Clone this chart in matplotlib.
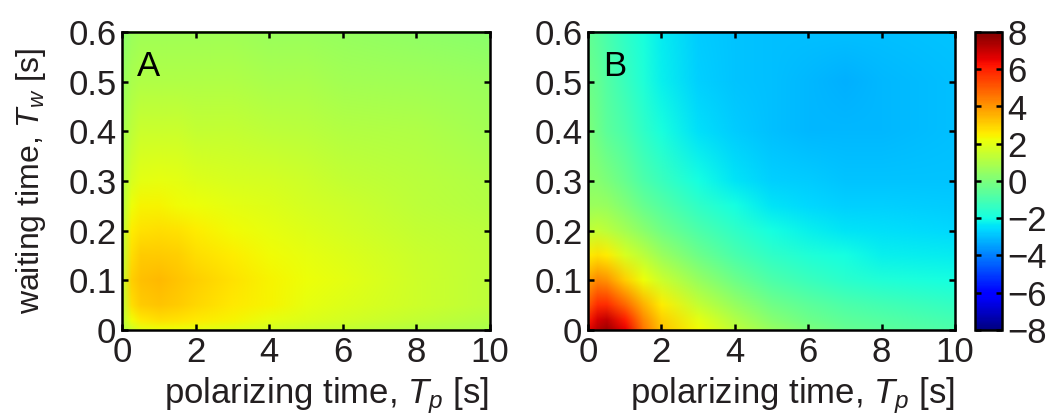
import numpy as np
import matplotlib
matplotlib.use('Agg')
import matplotlib.pyplot as plt
from matplotlib.colors import Normalize
from matplotlib.image import NonUniformImage

plt.rcParams['font.family'] = ['Liberation Sans', 'DejaVu Sans']
plt.rcParams['mathtext.fontset'] = 'custom'
plt.rcParams['mathtext.rm'] = 'Liberation Sans'
plt.rcParams['mathtext.it'] = 'Liberation Sans:italic'

# grid of polarizing time (s) and waiting time (s)
tp_a = [0, 0.25, 0.5, 1, 1.5, 2, 3, 4, 5, 6, 8, 10]
tw_a = [0, 0.02, 0.05, 0.1, 0.15, 0.2, 0.25, 0.3, 0.4, 0.5, 0.6]
z_a = [
    [1.0, 1.6, 2.0, 2.2, 2.2, 2.1, 1.9, 1.7, 1.5, 1.4, 1.1, 0.9],
    [1.2, 2.3, 2.6, 2.8, 2.7, 2.6, 2.4, 2.1, 1.9, 1.7, 1.4, 1.1],
    [1.3, 2.8, 3.1, 3.2, 3.1, 2.9, 2.6, 2.4, 2.1, 1.9, 1.6, 1.3],
    [1.4, 3.0, 3.3, 3.4, 3.2, 3.0, 2.7, 2.4, 2.2, 2.0, 1.6, 1.3],
    [1.3, 2.8, 3.1, 3.1, 3.0, 2.8, 2.5, 2.3, 2.1, 1.9, 1.5, 1.3],
    [1.2, 2.5, 2.7, 2.8, 2.7, 2.5, 2.3, 2.1, 1.9, 1.7, 1.4, 1.2],
    [1.1, 2.2, 2.4, 2.4, 2.3, 2.2, 2.0, 1.9, 1.7, 1.6, 1.3, 1.1],
    [1.0, 1.8, 2.0, 2.1, 2.0, 1.9, 1.8, 1.7, 1.6, 1.4, 1.2, 1.0],
    [0.8, 1.3, 1.5, 1.5, 1.5, 1.4, 1.4, 1.3, 1.2, 1.1, 1.0, 0.8],
    [0.5, 0.9, 1.0, 1.0, 1.0, 1.0, 1.0, 0.9, 0.9, 0.8, 0.7, 0.6],
    [0.3, 0.6, 0.7, 0.7, 0.7, 0.7, 0.7, 0.6, 0.6, 0.5, 0.4, 0.3],
]

tp_b = [0, 0.25, 0.5, 1, 1.5, 2, 3, 4, 5, 6, 7, 8, 10]
tw_b = [0, 0.02, 0.05, 0.1, 0.15, 0.2, 0.25, 0.3, 0.4, 0.5, 0.6]
z_b = [
    [6.5, 7.2, 7.5, 6.5, 4.5, 3.2, 2.3, 1.3, 0.5, 0.0, -0.4, -0.6, -0.9],
    [6.0, 6.8, 7.0, 6.0, 4.2, 3.0, 2.0, 1.0, 0.2, -0.3, -0.6, -0.8, -1.1],
    [5.0, 5.8, 5.8, 4.8, 3.5, 2.5, 1.4, 0.5, -0.2, -0.6, -0.9, -1.1, -1.4],
    [3.8, 4.2, 4.0, 3.0, 2.2, 1.5, 0.5, -0.3, -0.9, -1.3, -1.6, -1.8, -2.0],
    [2.5, 2.7, 2.5, 1.8, 1.2, 0.6, -0.3, -1.0, -1.5, -1.8, -2.0, -2.2, -2.3],
    [1.3, 1.4, 1.2, 0.8, 0.3, -0.2, -0.9, -1.5, -2.0, -2.2, -2.4, -2.5, -2.6],
    [0.6, 0.6, 0.5, 0.1, -0.4, -0.8, -1.5, -2.0, -2.4, -2.6, -2.7, -2.7, -2.8],
    [0.3, 0.2, 0.0, -0.4, -0.9, -1.3, -2.0, -2.4, -2.7, -2.8, -2.9, -2.9, -2.9],
    [0.0, -0.3, -0.6, -1.0, -1.5, -1.9, -2.5, -2.8, -3.0, -3.1, -3.1, -3.1, -3.0],
    [-0.3, -0.5, -0.8, -1.3, -1.8, -2.2, -2.7, -2.9, -3.0, -3.1, -3.2, -3.1, -3.0],
    [-0.5, -0.7, -1.0, -1.5, -1.9, -2.3, -2.8, -2.9, -3.0, -3.0, -3.0, -3.0, -2.9],
]

xticks = [0, 2, 4, 6, 8, 10]
yticks = [0, 0.1, 0.2, 0.3, 0.4, 0.5, 0.6]
ytick_labels = ['0', '0.1', '0.2', '0.3', '0.4', '0.5', '0.6']
cbar_ticks = [-8, -6, -4, -2, 0, 2, 4, 6, 8]
panel_labels = ['A', 'B']

txt = '#231f20'
norm = Normalize(-8, 8)
fs = 25

fig = plt.figure(figsize=(10.62, 4.15), dpi=100)
W, H = 1062, 415
ax_a = fig.add_axes([122 / W, (H - 330) / H, 368 / W, 298 / H])
ax_b = fig.add_axes([588 / W, (H - 330) / H, 367 / W, 298 / H])
cax = fig.add_axes([975 / W, (H - 330) / H, 27 / W, 298 / H])


def draw_panel(ax, tp, tw, z, label):
    im = NonUniformImage(ax, interpolation='bilinear', extent=(0, 10, 0, 0.6),
                         cmap='jet', norm=norm)
    im.set_data(np.array(tp, float), np.array(tw, float), np.array(z, float))
    ax.add_image(im)
    ax.set_xlim(0, 10)
    ax.set_ylim(0, 0.6)
    ax.set_xticks(xticks)
    ax.set_yticks(yticks)
    ax.set_yticklabels(ytick_labels)
    ax.tick_params(direction='in', top=True, right=True, length=4, width=1.8,
                   labelsize=fs, labelcolor=txt, pad=4)
    for s in ax.spines.values():
        s.set_linewidth(1.8)
    ax.set_xlabel('polarizing time, $T_p$ [s]', fontsize=fs, color=txt)
    ax.xaxis.set_label_coords(0.557, -0.15)
    ax.text(0.04, 0.852, label, transform=ax.transAxes, fontsize=fs,
            color='black', va='baseline', ha='left')
    return im


im_a = draw_panel(ax_a, tp_a, tw_a, z_a, panel_labels[0])
im_b = draw_panel(ax_b, tp_b, tw_b, z_b, panel_labels[1])

ax_a.set_ylabel('waiting time, $T_w$ [s]', fontsize=23, color=txt)
ax_a.yaxis.set_label_coords(-0.2, 0.5)

cb = fig.colorbar(im_b, cax=cax, ticks=cbar_ticks)
cb.outline.set_linewidth(1.8)
cax.tick_params(direction='in', left=True, right=True, length=4, width=1.8,
                labelsize=fs, labelcolor=txt, pad=4)

fig.savefig('out.png', dpi=100)
